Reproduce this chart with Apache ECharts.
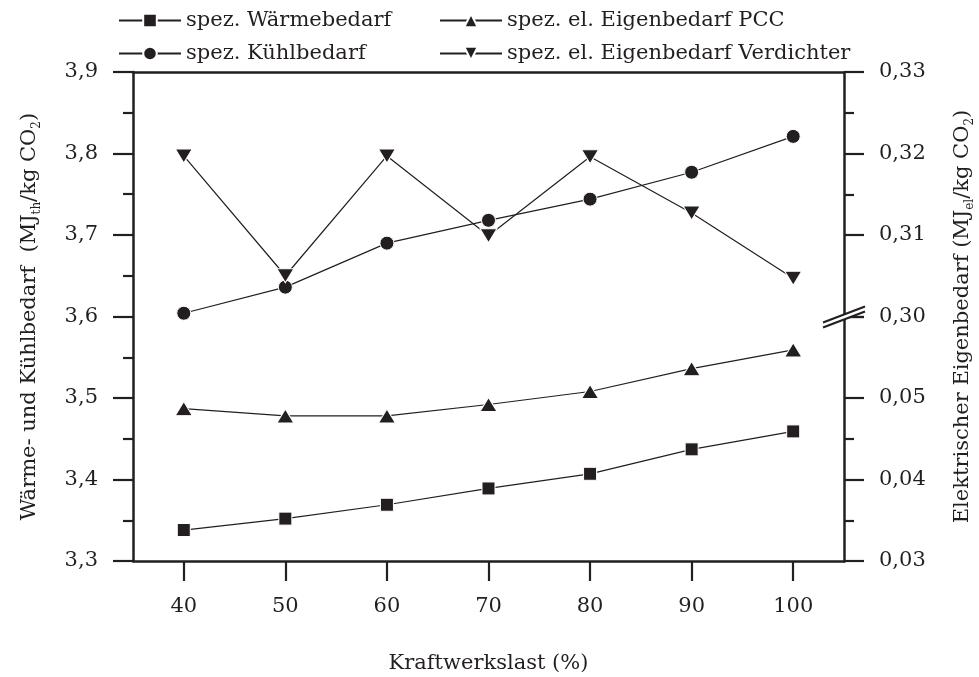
<!DOCTYPE html>
<html>
<head>
<meta charset="utf-8">
<script src="https://cdn.jsdelivr.net/npm/echarts@6.0.0/dist/echarts.min.js"></script>
<style>
  html, body { margin: 0; padding: 0; background: #fff; }
  #chart { width: 979px; height: 677px; }
</style>
</head>
<body>
<div id="chart"></div>
<script>
// Kraftwerkslast (%)
const load = [40, 50, 60, 70, 80, 90, 100];

// left axis (MJ_th / kg CO2)
const waermebedarf = [3.338, 3.352, 3.369, 3.389, 3.407, 3.437, 3.459];
const kuehlbedarf = [3.604, 3.636, 3.690, 3.718, 3.744, 3.777, 3.821];

// right axis (MJ_el / kg CO2), broken between 0.06 and 0.30
const eigenbedarfPCC = [0.0487, 0.0478, 0.0478, 0.0492, 0.0508, 0.0536, 0.0559];
const eigenbedarfVerdichter = [0.3197, 0.3050, 0.3197, 0.3099, 0.3196, 0.3127, 0.3047];

const xTicks = [40, 50, 60, 70, 80, 90, 100];

const ink = '#231f20';
const font = 'DejaVu Serif';

const chart = echarts.init(document.getElementById('chart'));

function pairs(ys) {
  return load.map((x, i) => [x, ys[i]]);
}

const markerStyle = { color: ink, borderColor: '#fff', borderWidth: 1 };
const lineStyle = { color: ink, width: 1.2 };

const axisCommon = {
  axisLine: { show: true, lineStyle: { color: ink, width: 2.5 } },
  axisTick: { show: true, inside: false, length: 20, lineStyle: { color: ink, width: 2.2 } },
  minorTick: { show: true, splitNumber: 2, length: 10, lineStyle: { color: ink, width: 2.2 } },
  splitLine: { show: false },
  nameTextStyle: {
    fontFamily: font, fontSize: 21, color: ink,
    rich: {
      m: { fontFamily: font, fontSize: 21, color: ink, lineHeight: 26 },
      s: { fontFamily: font, fontSize: 12, color: ink, lineHeight: 14, verticalAlign: 'bottom' }
    }
  }
};

const legendCommon = {
  orient: 'vertical',
  top: 5,
  itemWidth: 62,
  itemHeight: 17,
  itemGap: 12,
  textStyle: { fontFamily: font, fontSize: 21, color: ink }
};

const option = {
  animation: false,
  backgroundColor: '#fff',
  grid: { left: 133, right: 135, top: 72, bottom: 116, outerBoundsMode: 'none', containLabel: false },
  legend: [
    Object.assign({ left: 113, data: ['spez. Wärmebedarf', 'spez. Kühlbedarf'] }, legendCommon),
    Object.assign({ left: 434, data: ['spez. el. Eigenbedarf PCC', 'spez. el. Eigenbedarf Verdichter'] }, legendCommon)
  ],
  xAxis: [
    Object.assign({}, axisCommon, {
      type: 'value',
      min: 35,
      max: 105,
      position: 'bottom',
      name: 'Kraftwerkslast (%)',
      nameLocation: 'middle',
      nameGap: 92,
      axisTick: Object.assign({}, axisCommon.axisTick, { customValues: xTicks }),
      minorTick: { show: false },
      axisLabel: {
        customValues: xTicks,
        margin: 35,
        fontFamily: font, fontSize: 21, color: ink
      }
    }),
    {
      type: 'value',
      min: 35,
      max: 105,
      position: 'top',
      axisLine: { show: true, lineStyle: { color: ink, width: 2.5 } },
      axisTick: { show: false },
      axisLabel: { show: false },
      splitLine: { show: false }
    }
  ],
  yAxis: [
    Object.assign({}, axisCommon, {
      type: 'value',
      min: 3.3,
      max: 3.9,
      interval: 0.1,
      position: 'left',
      name: '{m|Wärme- und Kühlbedarf  (MJ}{s|th}{m|/kg CO}{s|2}{m|)}',
      nameLocation: 'middle',
      nameRotate: 90,
      nameGap: 90,
      axisLabel: {
        margin: 35,
        fontFamily: font, fontSize: 21, color: ink,
        formatter: v => v.toFixed(1).replace('.', ',')
      }
    }),
    Object.assign({}, axisCommon, {
      type: 'value',
      min: 0.03,
      max: 0.33,
      interval: 0.01,
      position: 'right',
      breaks: [{ start: 0.06, end: 0.30, gap: 0 }],
      breakArea: { show: false },
      breakLabelLayout: { moveOverlap: false },
      name: '{m|Elektrischer Eigenbedarf (MJ}{s|el}{m|/kg CO}{s|2}{m|)}',
      nameLocation: 'middle',
      nameRotate: 90,
      nameGap: 106,
      axisLabel: {
        margin: 35,
        fontFamily: font, fontSize: 21, color: ink,
        formatter: v => Math.abs(v - 0.06) < 1e-6 ? '' : v.toFixed(2).replace('.', ',')
      }
    })
  ],
  series: [
    {
      name: 'spez. Wärmebedarf', type: 'line', xAxisIndex: 0, yAxisIndex: 0,
      data: pairs(waermebedarf),
      symbol: 'rect', symbolSize: 13,
      itemStyle: markerStyle, lineStyle: lineStyle
    },
    {
      name: 'spez. Kühlbedarf', type: 'line', xAxisIndex: 0, yAxisIndex: 0,
      data: pairs(kuehlbedarf),
      symbol: 'circle', symbolSize: 14,
      itemStyle: markerStyle, lineStyle: lineStyle
    },
    {
      name: 'spez. el. Eigenbedarf PCC', type: 'line', xAxisIndex: 0, yAxisIndex: 1,
      data: pairs(eigenbedarfPCC),
      symbol: 'triangle', symbolSize: [17, 14],
      itemStyle: markerStyle, lineStyle: lineStyle
    },
    {
      name: 'spez. el. Eigenbedarf Verdichter', type: 'line', xAxisIndex: 0, yAxisIndex: 1,
      data: pairs(eigenbedarfVerdichter),
      symbol: 'triangle', symbolRotate: 180, symbolSize: [17, 14],
      itemStyle: markerStyle, lineStyle: lineStyle
    }
  ]
};

chart.setOption(option);

// axis break marks on the right axis at 0,30
const bx = chart.convertToPixel({ xAxisIndex: 0 }, 105);
const by = chart.convertToPixel({ yAxisIndex: 1 }, 0.30);
chart.setOption({
  graphic: [
    {
      type: 'polygon', z: 100,
      shape: { points: [[bx - 21, by + 6], [bx + 21, by - 10], [bx + 21, by - 5], [bx - 21, by + 11]] },
      style: { fill: '#fff' }
    },
    {
      type: 'line', z: 101,
      shape: { x1: bx - 21, y1: by + 6, x2: bx + 21, y2: by - 10 },
      style: { stroke: ink, lineWidth: 2 }
    },
    {
      type: 'line', z: 101,
      shape: { x1: bx - 21, y1: by + 11, x2: bx + 21, y2: by - 5 },
      style: { stroke: ink, lineWidth: 2 }
    }
  ]
});
</script>
</body>
</html>
